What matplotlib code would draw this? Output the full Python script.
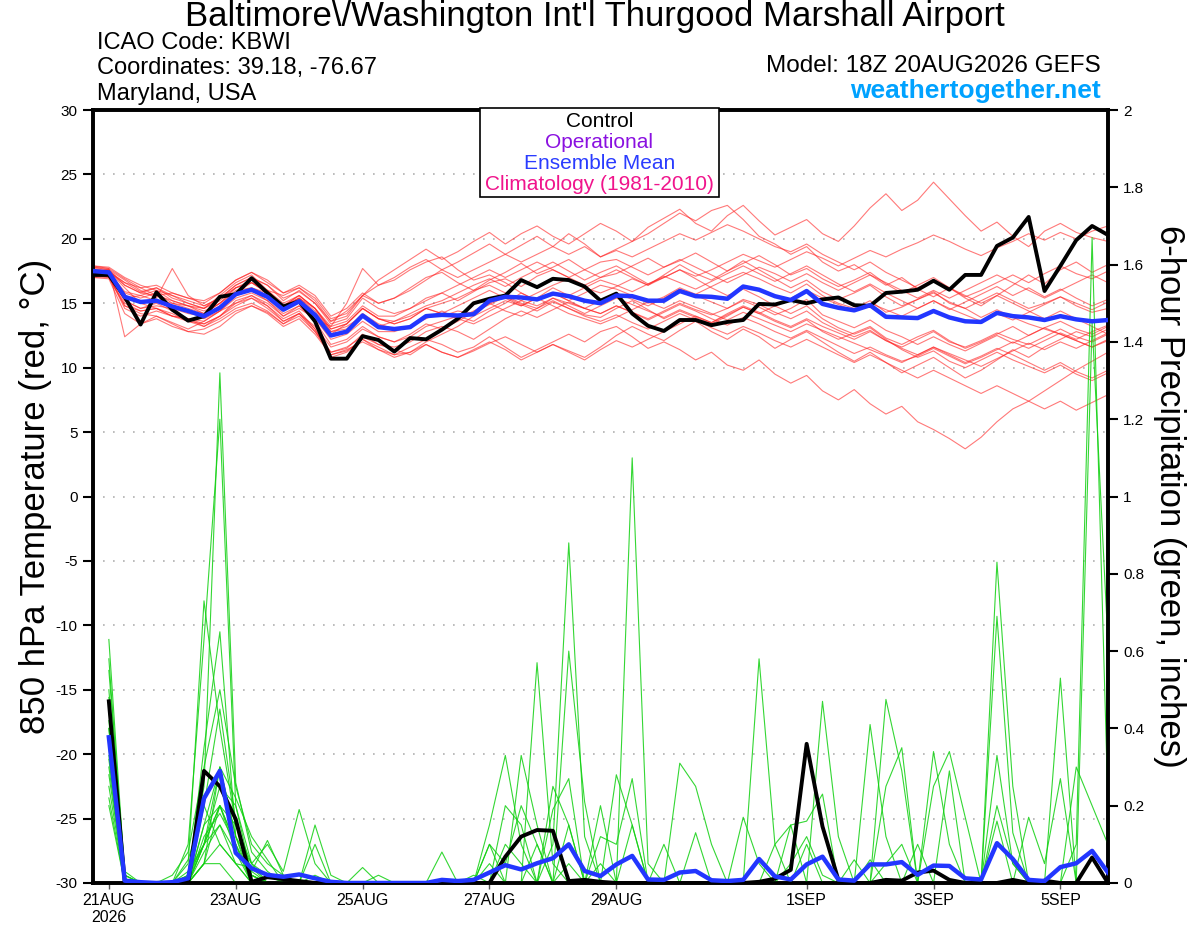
import numpy as np
import matplotlib
matplotlib.use("Agg")
import matplotlib.pyplot as plt
from matplotlib.patches import Rectangle

plt.rcParams['font.family'] = ['Liberation Sans', 'DejaVu Sans']
plt.rcParams['axes.unicode_minus'] = False

# ---------------------------------------------------------------
# DATA  (hours after 00Z 21AUG; temperature starts at 18Z analysis)
# ---------------------------------------------------------------
temp_hours = np.arange(-6, 379, 6)      # 65 steps
precip_hours = np.arange(0, 379, 6)     # 64 steps

tick_days = [0, 2, 4, 6, 8, 11, 13, 15]
tick_labels = ['21AUG\n2026', '23AUG', '25AUG', '27AUG', '29AUG', '1SEP', '3SEP', '5SEP']

control_temp = [17.2,
    17.2, 15.5, 13.35, 15.85,  14.5, 13.65, 14.0, 15.5,  15.7, 16.95, 15.8, 14.75,
    15.15, 13.6, 10.7, 10.7,  12.45, 12.15, 11.25, 12.3,  12.2, 12.95, 13.8, 15.0,
    15.35, 15.6, 16.8, 16.25,  16.9, 16.8, 16.3, 15.2,  15.75, 14.2, 13.25, 12.85,
    13.7, 13.7, 13.3, 13.55,  13.7, 14.95, 14.9, 15.25,  15.0, 15.3, 15.45, 14.85,
    14.8, 15.8, 15.9, 16.05,  16.75, 16.05, 17.2, 17.2,  19.45, 20.1, 21.7, 15.95,
    17.9, 19.9, 21.0, 20.3]

mean_temp = [17.5,
    17.4, 15.5, 15.1, 15.2,  14.75, 14.4, 14.0, 14.65,  15.7, 16.05, 15.5, 14.5,
    15.15, 14.1, 12.5, 12.8,  14.05, 13.15, 13.0, 13.15,  14.0, 14.1, 14.05, 14.15,
    15.2, 15.5, 15.45, 15.3,  15.75, 15.55, 15.2, 15.0,  15.6, 15.55, 15.2, 15.2,
    15.95, 15.55, 15.5, 15.35,  16.3, 16.05, 15.55, 15.25,  15.95, 14.95, 14.65, 14.45,
    14.85, 13.95, 13.9, 13.85,  14.4, 13.9, 13.6, 13.55,  14.25, 14.0, 13.9, 13.7,
    14.0, 13.75, 13.6, 13.7]

control_precip = [
    0.47, 0.003, 0, 0,  0, 0, 0.29, 0.25,  0.165, 0.003, 0.015, 0.01,  0.005, 0, 0, 0,
    0, 0, 0, 0,  0, 0, 0, 0,  0, 0.068, 0.12, 0.137,  0.135, 0.005, 0.008, 0.003,
    0, 0, 0, 0,  0, 0, 0, 0,  0, 0.003, 0.011, 0.034,  0.36, 0.146, 0.008, 0,
    0, 0.008, 0.006, 0.027,  0.032, 0.008, 0, 0,  0, 0.008, 0, 0.006,  0, 0, 0.066, 0]

mean_precip = [
    0.377, 0.006, 0.002, 0,  0.002, 0.012, 0.219, 0.29,  0.078, 0.038, 0.021, 0.016,
    0.022, 0.012, 0.003, 0,  0, 0, 0, 0,  0, 0.008, 0.005, 0.008,
    0.027, 0.046, 0.035, 0.051,  0.064, 0.1, 0.031, 0.018,  0.048, 0.07, 0.009, 0.008,
    0.027, 0.031, 0.007, 0.005,  0.008, 0.062, 0.017, 0.009,  0.048, 0.068, 0.009, 0.006,
    0.048, 0.048, 0.054, 0.021,  0.045, 0.044, 0.012, 0.009,  0.103, 0.062, 0.008, 0.005,
    0.041, 0.051, 0.083, 0.027]

# ensemble member 850 hPa temperatures
temp_m01 = [17.8, 17.6, 16.4, 15.8, 16.2, 15.4, 15.0, 14.6, 15.6, 16.6, 17.2, 16.0, 15.6, 16.2, 15.4, 13.8, 14.2,
    15.6, 16.4, 17.0, 17.8, 18.4, 17.6, 18.2, 18.9, 19.6, 18.8, 19.5, 20.2, 19.4, 20.4, 19.6, 18.6,
    19.2, 19.8, 20.9, 21.6, 22.3, 21.2, 20.6, 21.8, 22.6, 21.4, 20.3, 20.9, 21.5, 20.4, 19.8, 21.0,
    22.4, 23.5, 22.2, 23.0, 24.4, 23.1, 21.8, 20.6, 21.3, 20.2, 19.4, 20.6, 21.2, 20.5, 20.1, 19.8]
temp_m02 = [17.2, 17.0, 14.8, 14.2, 14.0, 13.5, 13.0, 13.6, 14.4, 15.0, 15.6, 14.8, 13.6, 14.2, 12.8, 11.0, 11.4,
    12.0, 11.4, 11.0, 11.6, 12.2, 11.8, 11.2, 11.6, 12.4, 11.6, 10.8, 11.4, 12.0, 12.6, 12.0, 12.8,
    13.2, 12.4, 11.5, 12.0, 11.4, 10.6, 11.2, 10.2, 9.8, 10.6, 9.5, 8.8, 9.4, 8.2, 7.5, 8.3,
    7.2, 6.4, 7.0, 5.8, 5.2, 4.5, 3.7, 4.6, 5.8, 6.8, 7.4, 8.2, 9.0, 9.8, 10.5, 11.2]
temp_m03 = [17.6, 17.5, 16.6, 16.2, 15.6, 15.8, 15.4, 15.0, 15.8, 16.8, 17.4, 16.6, 15.8, 16.2, 15.2, 13.6, 14.4,
    15.6, 16.8, 17.6, 18.4, 19.2, 18.4, 19.0, 19.8, 20.5, 19.6, 20.4, 21.0, 20.2, 19.6, 20.4, 21.2,
    20.6, 19.8, 20.4, 21.2, 22.0, 21.4, 22.2, 22.6, 21.5, 20.2, 19.6, 18.8, 19.4, 18.2, 17.5, 18.0,
    17.2, 16.4, 17.0, 16.1, 15.5, 16.2, 15.4, 14.8, 15.6, 16.4, 17.2, 16.5, 17.6, 18.2, 17.4, 18.0]
temp_m04 = [17.0, 16.9, 14.2, 13.4, 13.8, 13.2, 12.8, 13.0, 13.6, 14.4, 14.8, 14.2, 13.2, 13.8, 12.6, 11.0, 11.3,
    12.2, 11.6, 11.0, 11.2, 11.8, 11.2, 10.8, 11.4, 12.0, 11.4, 10.6, 11.2, 11.8, 11.3, 10.8, 11.6,
    12.5, 13.2, 12.6, 12.1, 12.9, 13.6, 12.8, 12.2, 13.0, 12.4, 11.5, 12.2, 12.8, 12.0, 11.2, 10.5,
    11.2, 10.4, 9.6, 10.2, 10.8, 10.0, 9.2, 9.8, 10.6, 11.4, 10.8, 11.6, 12.2, 12.8, 12.4, 13.0]
temp_m05 = [17.5, 17.4, 16.6, 15.9, 16.2, 15.6, 15.2, 14.8, 15.4, 16.4, 17.0, 16.4, 15.4, 15.9, 15.0, 13.4, 13.8,
    15.4, 14.6, 14.2, 14.6, 15.4, 15.8, 15.2, 15.9, 16.6, 16.9, 16.3, 17.1, 17.6, 17.0, 16.4, 17.0,
    17.6, 17.0, 16.4, 17.2, 18.0, 17.3, 16.8, 17.5, 18.3, 17.6, 16.9, 16.2, 16.8, 15.9, 15.3, 15.8,
    16.4, 15.5, 14.8, 15.3, 15.9, 15.0, 14.6, 15.2, 15.8, 15.2, 14.6, 15.0, 15.5, 14.8, 14.3, 14.6]
temp_m06 = [17.9, 17.7, 12.4, 13.4, 14.0, 13.4, 12.8, 12.6, 13.2, 14.2, 14.8, 14.3, 13.4, 14.2, 13.2, 11.6, 12.0,
    13.0, 12.4, 12.0, 12.6, 13.4, 13.0, 13.6, 14.3, 14.9, 15.5, 14.9, 14.4, 15.1, 14.6, 14.1, 13.9,
    14.6, 15.2, 14.5, 13.8, 14.4, 13.9, 13.4, 14.0, 14.7, 14.2, 13.6, 13.1, 13.7, 12.8, 12.2, 12.7,
    13.2, 12.3, 11.8, 12.4, 12.9, 12.1, 11.5, 12.0, 12.6, 13.2, 12.5, 13.1, 13.6, 13.0, 12.6, 13.2]
temp_m07 = [17.4, 17.6, 16.8, 16.0, 15.4, 17.7, 15.6, 14.8, 15.4, 16.4, 17.0, 16.4, 15.2, 16.0, 15.0, 13.6, 14.0,
    15.6, 15.0, 15.4, 16.2, 17.0, 17.4, 16.6, 16.0, 16.8, 17.4, 18.1, 17.3, 17.8, 18.4, 17.6, 17.0,
    17.3, 17.9, 18.5, 17.8, 18.3, 18.9, 18.2, 17.5, 18.1, 18.7, 18.0, 17.2, 17.7, 16.9, 16.3, 16.8,
    17.4, 16.5, 15.8, 16.4, 17.0, 16.2, 15.5, 16.0, 16.6, 17.2, 16.6, 17.3, 17.9, 17.3, 16.9, 17.5]
temp_m08 = [17.3, 17.2, 15.2, 14.6, 15.0, 14.4, 13.8, 13.6, 14.4, 15.6, 16.0, 15.2, 14.0, 14.6, 13.8, 13.2, 15.0,
    17.7, 16.4, 16.8, 17.6, 18.2, 18.6, 17.6, 16.8, 17.2, 16.6, 15.8, 15.2, 15.8, 15.2, 14.6, 14.2,
    14.8, 14.3, 13.8, 14.4, 15.0, 14.5, 14.1, 14.6, 15.3, 14.9, 14.3, 13.8, 14.4, 13.5, 12.9, 12.4,
    12.9, 12.1, 11.6, 12.2, 12.8, 12.0, 11.6, 12.1, 12.7, 12.2, 11.8, 12.4, 13.0, 12.4, 12.0, 12.6]
temp_m09 = [17.6, 17.5, 16.2, 15.0, 15.2, 14.6, 14.2, 14.0, 14.8, 15.8, 16.6, 15.8, 14.6, 15.4, 14.6, 12.8, 13.2,
    14.0, 13.2, 13.6, 14.2, 14.8, 15.2, 15.8, 16.4, 16.9, 16.3, 17.0, 17.6, 18.2, 17.5, 16.8, 17.4,
    17.9, 17.2, 16.5, 17.0, 17.6, 16.9, 16.2, 15.6, 16.1, 15.5, 14.8, 14.2, 14.8, 13.8, 13.1, 12.6,
    13.1, 12.2, 11.4, 10.8, 11.3, 10.5, 10.0, 10.6, 11.2, 10.6, 10.1, 9.6, 10.2, 9.5, 9.0, 9.6]
temp_m10 = [17.1, 17.0, 15.0, 14.4, 14.6, 14.2, 13.6, 13.2, 14.0, 15.2, 15.6, 15.0, 14.0, 14.8, 13.6, 11.8, 12.2,
    13.2, 12.4, 12.0, 12.4, 13.2, 13.6, 14.0, 13.6, 14.4, 15.0, 15.8, 15.2, 15.8, 15.2, 15.8, 16.4,
    16.1, 15.6, 15.0, 15.5, 16.2, 15.7, 16.3, 16.9, 17.4, 16.9, 16.3, 15.8, 16.5, 15.6, 15.0, 14.6,
    15.2, 14.3, 14.7, 15.3, 15.8, 15.1, 14.6, 13.9, 14.5, 13.9, 13.4, 13.0, 12.6, 12.1, 11.6, 12.1]
temp_m11 = [17.7, 17.6, 15.6, 15.0, 14.6, 14.0, 13.6, 13.4, 14.0, 15.0, 15.4, 14.6, 13.6, 14.2, 13.0, 11.2, 11.5,
    12.6, 11.8, 11.4, 11.0, 11.8, 11.2, 10.8, 11.3, 11.9, 12.4, 11.8, 11.2, 11.8, 11.2, 10.6, 11.4,
    12.1, 11.6, 12.2, 12.8, 13.4, 14.0, 13.5, 14.2, 14.8, 14.3, 13.7, 13.2, 13.8, 13.2, 12.7, 12.2,
    12.8, 12.1, 11.5, 11.0, 11.6, 11.0, 10.4, 10.9, 11.5, 11.0, 10.4, 9.8, 10.4, 9.7, 9.2, 9.8]
temp_m12 = [17.4, 17.3, 15.8, 15.4, 15.8, 15.0, 14.6, 14.2, 15.0, 15.8, 16.2, 15.8, 14.8, 15.4, 14.2, 12.6, 13.4,
    14.6, 13.8, 13.6, 14.0, 14.6, 15.0, 15.4, 16.0, 16.4, 15.8, 15.2, 15.8, 16.4, 16.9, 16.2, 15.8,
    16.3, 16.9, 16.4, 17.0, 17.6, 17.1, 17.6, 18.2, 18.8, 18.3, 17.8, 18.4, 19.0, 18.5, 17.9, 18.5,
    19.1, 18.6, 19.2, 19.7, 20.3, 19.8, 19.2, 18.7, 19.3, 19.8, 20.4, 19.9, 20.5, 20.0, 20.6, 21.0]
temp_m13 = [17.0, 17.1, 14.6, 14.0, 14.4, 14.0, 13.8, 13.2, 13.8, 14.6, 15.0, 14.4, 13.4, 14.0, 12.8, 11.2, 11.6,
    12.4, 11.8, 11.6, 12.0, 12.8, 13.2, 12.8, 12.2, 13.0, 13.8, 14.4, 13.9, 14.5, 15.1, 14.6, 14.2,
    14.8, 14.3, 13.7, 14.3, 14.9, 14.4, 13.8, 13.3, 13.9, 13.4, 12.8, 12.3, 12.9, 12.3, 11.7, 11.1,
    11.6, 11.0, 10.5, 10.9, 11.5, 10.9, 10.3, 10.8, 11.4, 12.0, 11.5, 12.1, 12.7, 12.2, 12.8, 13.3]
temp_m14 = [17.8, 17.7, 16.9, 16.2, 16.4, 15.8, 15.4, 15.2, 15.8, 16.8, 17.4, 16.8, 15.8, 16.4, 15.6, 14.0, 14.6,
    15.8, 15.0, 15.4, 16.0, 16.8, 17.6, 17.0, 17.6, 18.2, 18.8, 18.2, 18.8, 19.4, 18.8, 19.4, 18.6,
    19.1, 18.6, 19.2, 19.8, 20.4, 19.9, 20.5, 21.1, 20.6, 20.0, 19.4, 19.0, 19.6, 18.8, 18.2, 17.6,
    18.2, 17.4, 16.8, 16.2, 16.8, 16.2, 15.6, 15.0, 15.6, 15.0, 14.4, 13.8, 14.4, 13.8, 13.2, 12.6]
temp_m15 = [17.3, 17.2, 15.4, 15.6, 15.2, 15.0, 14.8, 14.4, 15.0, 16.0, 16.2, 15.6, 14.8, 15.4, 14.4, 12.8, 13.0,
    14.2, 13.4, 13.0, 13.2, 14.0, 14.0, 14.4, 14.2, 15.0, 15.6, 15.0, 14.6, 15.4, 15.0, 14.6, 15.2,
    15.8, 15.3, 14.8, 15.4, 16.1, 15.6, 15.1, 14.6, 15.2, 14.7, 14.1, 14.6, 15.3, 14.1, 13.6, 13.1,
    13.7, 12.9, 12.4, 11.8, 12.4, 11.8, 11.3, 11.9, 12.5, 11.9, 12.5, 13.1, 12.6, 12.1, 11.6, 12.2]
temp_m16 = [17.2, 17.1, 14.8, 14.4, 14.6, 14.0, 13.8, 13.4, 14.0, 14.8, 15.4, 14.8, 13.8, 14.4, 13.0, 10.8, 11.2,
    12.2, 11.4, 10.8, 11.2, 12.0, 12.6, 13.2, 14.0, 14.6, 15.2, 14.8, 15.4, 16.2, 15.6, 16.2, 16.8,
    16.4, 15.9, 16.5, 17.1, 16.6, 16.1, 16.7, 17.3, 17.9, 17.3, 16.7, 17.3, 17.9, 17.2, 16.5, 15.9,
    16.5, 15.8, 15.2, 14.6, 15.2, 14.5, 15.1, 15.7, 16.3, 15.6, 16.2, 15.5, 16.1, 15.4, 14.8, 15.3]
temp_m17 = [17.6, 17.5, 16.4, 15.8, 15.6, 15.2, 14.8, 14.6, 15.2, 16.2, 16.6, 15.8, 14.8, 15.6, 14.6, 13.0, 13.4,
    14.6, 13.8, 13.4, 13.8, 14.6, 14.2, 13.8, 14.4, 15.0, 14.4, 14.0, 14.6, 15.2, 14.6, 14.0, 13.6,
    14.1, 13.5, 13.0, 13.6, 14.2, 13.7, 13.1, 12.6, 13.2, 12.7, 12.1, 11.6, 12.2, 11.6, 11.0, 10.4,
    11.0, 10.4, 9.8, 9.2, 9.8, 9.2, 8.6, 8.0, 8.6, 8.0, 7.4, 6.8, 7.4, 6.7, 7.3, 7.9]
temp_m18 = [17.5, 17.4, 15.9, 15.6, 16.0, 15.2, 14.8, 14.2, 15.0, 16.2, 16.8, 16.0, 15.0, 15.6, 14.6, 13.2, 13.6,
    14.8, 14.0, 14.0, 14.6, 15.2, 15.8, 16.4, 17.0, 17.6, 17.0, 17.6, 18.2, 17.6, 17.0, 17.6, 18.2,
    18.4, 17.8, 17.2, 17.8, 18.4, 17.8, 17.2, 16.6, 17.2, 17.8, 17.3, 16.7, 17.3, 16.6, 16.0, 16.6,
    17.2, 16.6, 16.0, 15.4, 16.0, 15.4, 16.0, 16.6, 17.2, 16.6, 16.0, 15.4, 16.0, 16.6, 17.2, 16.6]
temp_m19 = [17.4, 17.3, 15.2, 14.6, 14.8, 14.6, 14.4, 13.8, 14.4, 15.4, 15.8, 15.2, 14.2, 14.8, 13.8, 12.2, 12.6,
    13.6, 12.8, 12.8, 13.2, 13.8, 14.4, 13.8, 13.4, 14.0, 14.6, 15.2, 14.8, 15.4, 14.8, 14.2, 14.8,
    15.4, 14.9, 14.4, 13.9, 14.5, 14.0, 13.5, 14.1, 14.7, 14.2, 14.8, 15.4, 16.0, 15.4, 14.9, 14.4,
    15.0, 14.5, 14.0, 14.6, 15.2, 14.6, 14.1, 13.6, 14.2, 13.7, 14.3, 14.9, 15.5, 15.0, 14.5, 15.1]
temp_m20 = [17.9, 17.8, 17.0, 16.4, 16.0, 15.6, 15.0, 14.6, 15.4, 16.2, 16.6, 16.0, 14.8, 15.6, 14.6, 13.0, 13.4,
    14.6, 13.8, 13.4, 13.8, 14.6, 14.2, 14.8, 15.4, 16.0, 15.4, 14.8, 15.4, 14.8, 14.2, 13.8, 13.4,
    13.9, 14.5, 15.1, 14.6, 15.2, 14.7, 14.2, 13.7, 14.3, 13.8, 13.3, 12.8, 13.4, 12.9, 12.4, 11.9,
    11.4, 10.9, 10.4, 11.0, 11.6, 11.1, 10.6, 10.1, 10.7, 11.3, 11.9, 11.4, 12.0, 11.5, 12.1, 12.7]

# ensemble member 6-hour precipitation (inches)
precip_m01 = [0.63, 0.02, 0, 0, 0, 0.05, 0.73, 0.40, 0.15, 0.05, 0.02, 0, 0, 0, 0, 0,
    0, 0, 0, 0, 0, 0, 0, 0, 0, 0.1, 0.05, 0, 0.1, 0.88, 0.12, 0,
    0, 0, 0, 0, 0, 0, 0, 0, 0, 0, 0, 0.05, 0.12, 0.02, 0, 0,
    0, 0, 0, 0, 0, 0, 0, 0, 0.2, 0.05, 0, 0, 0, 0, 0, 0]
precip_m02 = [0.58, 0, 0, 0, 0, 0.02, 0.25, 1.32, 0.26, 0.08, 0.03, 0, 0, 0, 0, 0,
    0.04, 0, 0, 0, 0, 0, 0, 0, 0, 0, 0, 0.57, 0.05, 0, 0, 0,
    0, 1.10, 0.05, 0, 0, 0, 0, 0, 0, 0, 0, 0, 0, 0, 0, 0,
    0, 0.05, 0.1, 0, 0, 0, 0, 0, 0, 0, 0, 0, 0, 0.1, 1.67, 0.2]
precip_m03 = [0.55, 0.03, 0, 0, 0, 0.1, 0.63, 1.20, 0.2, 0.02, 0, 0, 0, 0, 0, 0,
    0, 0, 0, 0, 0, 0, 0, 0, 0.15, 0.33, 0.1, 0, 0, 0, 0, 0,
    0, 0, 0, 0, 0.31, 0.25, 0.1, 0, 0, 0, 0, 0, 0, 0, 0, 0,
    0.41, 0.12, 0, 0, 0, 0, 0, 0, 0, 0, 0, 0, 0, 0, 0, 0]
precip_m04 = [0.50, 0, 0, 0, 0, 0, 0.35, 0.65, 0.12, 0.05, 0.1, 0.03, 0.19, 0.05, 0, 0,
    0, 0, 0, 0, 0, 0.08, 0, 0, 0, 0, 0, 0, 0, 0.6, 0.21, 0,
    0, 0, 0, 0, 0, 0, 0, 0, 0, 0.58, 0.1, 0, 0, 0, 0, 0,
    0, 0, 0, 0, 0, 0, 0, 0, 0.83, 0.25, 0, 0, 0, 0, 0, 0]
precip_m05 = [0.48, 0.01, 0, 0, 0.02, 0.08, 0.3, 0.5, 0.25, 0.1, 0.05, 0.02, 0, 0.15, 0.02, 0,
    0, 0, 0, 0, 0, 0, 0, 0, 0, 0, 0.33, 0.15, 0, 0, 0, 0,
    0.28, 0.15, 0, 0, 0, 0, 0, 0, 0, 0, 0, 0, 0, 0.47, 0.12, 0,
    0, 0, 0, 0, 0.34, 0.1, 0, 0, 0, 0, 0, 0, 0, 0, 0, 0]
precip_m06 = [0.45, 0.02, 0, 0, 0, 0, 0.2, 0.45, 0.16, 0.03, 0, 0, 0, 0, 0, 0,
    0, 0.02, 0, 0, 0, 0, 0, 0, 0.1, 0, 0, 0, 0.19, 0.27, 0, 0.2,
    0, 0, 0, 0, 0, 0, 0, 0, 0, 0, 0, 0.15, 0.16, 0.23, 0, 0.06,
    0, 0, 0, 0, 0, 0, 0, 0, 0.69, 0.13, 0, 0, 0, 0, 0, 0]
precip_m07 = [0.42, 0, 0, 0, 0, 0, 0.15, 0.3, 0.22, 0.12, 0.06, 0, 0, 0.02, 0, 0,
    0, 0, 0, 0, 0, 0, 0, 0, 0, 0.2, 0.15, 0, 0, 0, 0, 0.12,
    0.1, 0.27, 0, 0, 0, 0.13, 0, 0, 0, 0, 0, 0, 0, 0, 0, 0,
    0, 0.475, 0.29, 0, 0, 0, 0, 0, 0, 0, 0, 0, 0.53, 0, 0, 0]
precip_m08 = [0.40, 0.01, 0, 0, 0, 0.03, 0.1, 0.25, 0.2, 0.05, 0, 0, 0, 0, 0, 0,
    0, 0, 0, 0, 0, 0, 0, 0, 0, 0, 0, 0, 0.25, 0.15, 0, 0,
    0, 0, 0, 0, 0, 0, 0, 0, 0.17, 0.05, 0, 0, 0, 0, 0, 0,
    0, 0.25, 0.35, 0, 0, 0, 0, 0, 0.33, 0.05, 0, 0, 0, 0, 1.45, 0.62]
precip_m09 = [0.38, 0, 0, 0, 0, 0, 0.05, 0.2, 0.15, 0.02, 0, 0, 0, 0, 0, 0,
    0, 0, 0, 0, 0, 0, 0, 0, 0, 0, 0, 0, 0, 0, 0, 0,
    0, 0, 0, 0, 0, 0, 0, 0, 0, 0, 0, 0, 0, 0, 0, 0,
    0, 0, 0, 0, 0.25, 0.34, 0.17, 0, 0, 0, 0, 0, 0, 0, 0, 0]
precip_m10 = [0.36, 0.02, 0, 0, 0, 0, 0.12, 0.18, 0.1, 0.02, 0, 0, 0, 0, 0, 0,
    0, 0, 0, 0, 0, 0, 0, 0, 0.1, 0.05, 0.2, 0.1, 0, 0, 0, 0,
    0, 0, 0, 0.1, 0, 0, 0, 0, 0, 0, 0, 0, 0, 0, 0, 0,
    0, 0, 0, 0, 0, 0, 0, 0, 0.16, 0, 0.17, 0.05, 0.27, 0, 0, 0]
precip_m11 = [0.35, 0, 0, 0, 0, 0, 0.08, 0.15, 0.08, 0.03, 0.11, 0.02, 0, 0, 0, 0,
    0, 0, 0, 0, 0, 0, 0, 0, 0, 0, 0, 0, 0, 0.15, 0, 0,
    0, 0, 0, 0, 0, 0, 0, 0, 0, 0, 0, 0, 0, 0, 0, 0,
    0, 0, 0, 0, 0, 0, 0, 0, 0, 0, 0, 0, 0, 0, 0, 0]
precip_m12 = [0.33, 0, 0, 0, 0, 0, 0.05, 0.1, 0.05, 0, 0, 0, 0, 0.1, 0, 0,
    0, 0, 0, 0, 0, 0, 0, 0.02, 0, 0, 0, 0.1, 0, 0, 0, 0,
    0, 0, 0, 0, 0, 0, 0, 0, 0, 0, 0, 0, 0.1, 0, 0, 0,
    0, 0, 0, 0, 0, 0, 0, 0, 0, 0, 0, 0, 0, 0, 0, 0]
precip_m13 = [0.32, 0, 0, 0, 0, 0.06, 0.2, 0.1, 0.05, 0.04, 0, 0, 0, 0, 0, 0,
    0, 0, 0, 0, 0, 0, 0, 0, 0, 0, 0, 0, 0, 0, 0, 0,
    0, 0, 0, 0, 0, 0, 0, 0, 0, 0, 0, 0, 0, 0, 0, 0,
    0.06, 0, 0, 0, 0, 0.29, 0, 0, 0, 0, 0, 0, 0, 0, 0, 0]
precip_m14 = [0.30, 0, 0, 0, 0, 0, 0.1, 0.2, 0.1, 0, 0, 0, 0, 0, 0, 0,
    0, 0, 0, 0, 0, 0, 0, 0, 0, 0, 0, 0, 0, 0, 0, 0.05,
    0, 0, 0, 0, 0, 0, 0, 0, 0, 0, 0, 0, 0, 0, 0, 0,
    0, 0, 0, 0, 0, 0, 0, 0, 0, 0, 0, 0, 0, 0.3, 0.2, 0.1]
precip_m15 = [0.28, 0, 0, 0, 0, 0, 0.05, 0.3, 0.12, 0, 0, 0, 0, 0, 0, 0,
    0, 0, 0, 0, 0, 0, 0, 0, 0, 0, 0, 0, 0, 0, 0, 0,
    0, 0, 0, 0, 0, 0, 0, 0, 0, 0, 0.1, 0.15, 0, 0, 0, 0,
    0, 0, 0, 0.1, 0, 0, 0, 0, 0, 0, 0, 0, 0, 0, 0, 0]
precip_m16 = [0.25, 0, 0, 0, 0, 0, 0.15, 0.2, 0.08, 0, 0, 0, 0, 0, 0, 0,
    0, 0, 0, 0, 0, 0, 0, 0, 0, 0, 0, 0, 0, 0, 0, 0,
    0, 0, 0, 0, 0, 0, 0, 0, 0, 0, 0, 0, 0, 0, 0, 0,
    0, 0, 0, 0, 0, 0, 0, 0, 0, 0, 0, 0, 0, 0, 0, 0]
precip_m17 = [0.22, 0, 0, 0, 0, 0, 0.1, 0.15, 0.05, 0, 0, 0, 0, 0, 0, 0,
    0, 0, 0, 0, 0, 0, 0, 0, 0, 0, 0, 0, 0, 0, 0, 0,
    0, 0.15, 0, 0, 0, 0, 0, 0, 0, 0, 0, 0, 0, 0, 0, 0,
    0, 0, 0, 0, 0, 0, 0, 0, 0, 0, 0, 0, 0, 0, 0, 0]
precip_m18 = [0.20, 0, 0, 0, 0, 0, 0.05, 0.05, 0, 0, 0, 0, 0, 0, 0, 0,
    0, 0, 0, 0, 0, 0, 0, 0, 0, 0, 0, 0, 0, 0.05, 0, 0,
    0, 0, 0, 0, 0, 0, 0, 0, 0, 0, 0, 0, 0, 0, 0, 0,
    0, 0, 0, 0, 0, 0, 0, 0, 0, 0, 0, 0, 0, 0, 0, 0]
precip_m19 = [0.45, 0, 0, 0, 0, 0.02, 0.1, 0.2, 0.1, 0, 0, 0, 0, 0, 0, 0,
    0, 0, 0, 0, 0, 0, 0, 0, 0.05, 0, 0, 0, 0, 0, 0, 0,
    0, 0, 0, 0, 0, 0, 0, 0, 0, 0, 0, 0, 0, 0, 0, 0,
    0, 0, 0, 0, 0, 0, 0, 0, 0, 0, 0, 0, 0, 0, 0, 0]
precip_m20 = [0.40, 0, 0, 0, 0, 0, 0.1, 0.3, 0.12, 0.02, 0, 0, 0, 0, 0, 0,
    0, 0, 0, 0, 0, 0, 0, 0, 0, 0, 0, 0, 0, 0, 0, 0,
    0, 0, 0, 0, 0, 0, 0, 0, 0, 0, 0, 0, 0, 0, 0, 0,
    0, 0, 0, 0, 0, 0, 0, 0, 0, 0, 0, 0, 0, 0, 0, 0]

temp_members = [temp_m01, temp_m02, temp_m03, temp_m04, temp_m05, temp_m06, temp_m07,
                temp_m08, temp_m09, temp_m10, temp_m11, temp_m12, temp_m13, temp_m14,
                temp_m15, temp_m16, temp_m17, temp_m18, temp_m19, temp_m20]
precip_members = [precip_m01, precip_m02, precip_m03, precip_m04, precip_m05, precip_m06,
                  precip_m07, precip_m08, precip_m09, precip_m10, precip_m11, precip_m12,
                  precip_m13, precip_m14, precip_m15, precip_m16, precip_m17, precip_m18,
                  precip_m19, precip_m20]

# ---------------------------------------------------------------
# FIGURE
# ---------------------------------------------------------------
fig = plt.figure(figsize=(12, 9.27), dpi=100)
ax = fig.add_axes([0.0775, 0.0475, 0.8458, 0.8338])
ax2 = ax.twinx()

# temperature axis (left): gridlines + red members
for v in range(-25, 30, 5):
    ax.axhline(v, color='#b0b0b0', lw=1.2, ls=(0, (1, 5)), zorder=0)
for m in temp_members:
    ax.plot(temp_hours[:len(m)], m, color='#ff2020', lw=0.8, alpha=0.6, zorder=2)

# precipitation axis (right): green members, then control / mean on top
for m in precip_members:
    ax2.plot(precip_hours[:len(m)], m, color='#10d010', lw=0.8, alpha=0.85, zorder=2)
ax2.plot(precip_hours, control_precip, color='black', lw=2.8, zorder=4)
ax2.plot(precip_hours, mean_precip, color='#2236ff', lw=3.2, zorder=5)
# temperature control / mean drawn above the green lines, on the temperature scale
ax2.plot(temp_hours, control_temp, transform=ax.transData, color='black', lw=2.8, zorder=6)
ax2.plot(temp_hours, mean_temp, transform=ax.transData, color='#2236ff', lw=3.2, zorder=7)

ax.set_xlim(-6, 378)
ax.set_ylim(-30, 30)
ax.set_yticks(range(-30, 31, 5))
ax2.set_ylim(0, 2)
ax2.set_yticks(np.arange(0, 2.01, 0.2))
ax2.set_yticklabels(['0', '0.2', '0.4', '0.6', '0.8', '1', '1.2', '1.4', '1.6', '1.8', '2'])

# x ticks
ax.set_xticks([d * 24 for d in tick_days])
ax.set_xticklabels(tick_labels, fontsize=11.5)
ax.tick_params(axis='x', direction='out', length=4, width=1, color='#555555', pad=3)
ax.tick_params(axis='y', direction='out', length=7, width=1.5, labelsize=11, pad=4)
ax2.tick_params(axis='y', direction='out', length=7, width=1.5, labelsize=11, pad=4)
for a in (ax, ax2):
    for s in a.spines.values():
        s.set_linewidth(2.6)

ax.set_ylabel('850 hPa Temperature (red, \u00b0C)', fontsize=25, labelpad=3)
ax2.set_ylabel('6-hour Precipitation (green, inches)', fontsize=25, rotation=270, labelpad=30)

# header
fig.text(0.496, 0.982, "Baltimore\\/Washington Int'l Thurgood Marshall Airport",
         ha='center', va='center', fontsize=25)
fig.text(0.081, 0.954, 'ICAO Code: KBWI', ha='left', va='center', fontsize=17)
fig.text(0.081, 0.927, 'Coordinates: 39.18, -76.67', ha='left', va='center', fontsize=17)
fig.text(0.081, 0.899, 'Maryland, USA', ha='left', va='center', fontsize=17)
fig.text(0.9175, 0.929, 'Model: 18Z 20AUG2026 GEFS', ha='right', va='center', fontsize=17.5)
fig.text(0.9175, 0.902, 'weathertogether.net', ha='right', va='center', fontsize=19,
         fontweight='bold', color='#00a2ff')

# legend box
fig.patches.append(Rectangle((0.40, 0.7875), 0.199, 0.096, transform=fig.transFigure,
                             facecolor='white', edgecolor='black', lw=1.2, zorder=10))
leg_items = [('Control', 'black'), ('Operational', '#8a10e0'),
             ('Ensemble Mean', '#2a3cff'), ('Climatology (1981-2010)', '#f0148c')]
for k, (txt, col) in enumerate(leg_items):
    fig.text(0.4995, 0.869 - k * 0.0228, txt, ha='center', va='center', fontsize=15,
             color=col, zorder=11)

fig.savefig('out.png', dpi=100)
